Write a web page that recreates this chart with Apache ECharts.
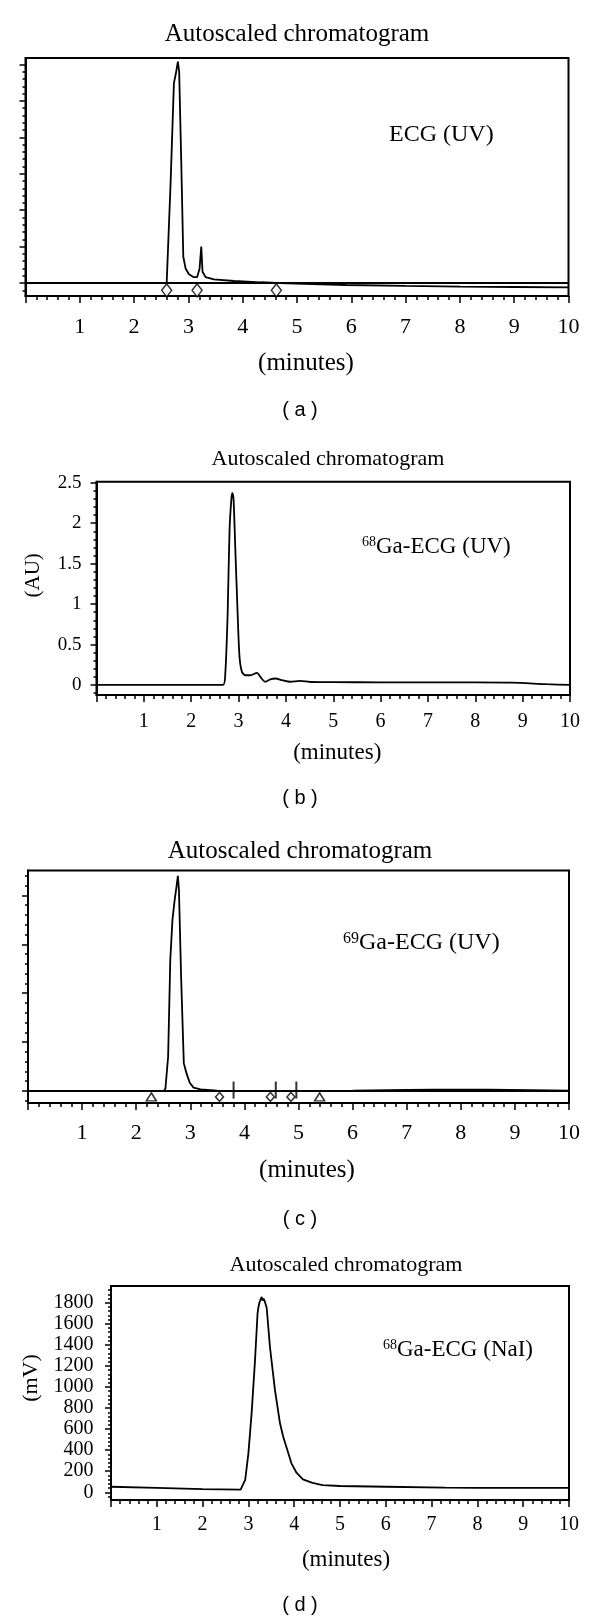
<!DOCTYPE html>
<html><head><meta charset="utf-8">
<script src="https://cdn.jsdelivr.net/npm/echarts@6/dist/echarts.min.js"></script>
<style>html,body{margin:0;padding:0;background:#fff}#c{width:600px;height:1621px}</style>
</head><body><div id="c"></div>
<script>
// ---------- shared ----------
const xTickLabels = [1, 2, 3, 4, 5, 6, 7, 8, 9, 10];

// ---------- panel (a): ECG (UV) ----------
const aTime   = [0, 1, 2, 2.5, 2.60, 2.672, 2.733, 2.77, 2.806, 2.83, 2.869, 2.906, 2.948, 3.01, 3.10, 3.16, 3.206, 3.237, 3.26, 3.317, 3.47, 3.84, 4.33, 4.82, 5.9, 7.0, 8.0, 9.0, 10.0];
const aSignal = [0, 0, 0, 0, 0, 2.74, 5.49, 5.76, 6.08, 5.80, 3.29, 0.72, 0.40, 0.24, 0.16, 0.16, 0.40, 1.0, 0.31, 0.16, 0.10, 0.055, 0.02, -0.01, -0.055, -0.08, -0.10, -0.11, -0.12];
const aDiamondTimes = [2.60, 3.16, 4.62];
const aYMajor = [0, 1, 2, 3, 4, 5, 6];

// ---------- panel (b): 68Ga-ECG (UV) ----------
const bTime   = [0, 1, 2, 2.67, 2.72, 2.77, 2.81, 2.85, 2.87, 2.895, 2.93, 2.98, 3.02, 3.07, 3.14, 3.25, 3.39, 3.46, 3.565, 3.67, 3.78, 3.92, 4.09, 4.30, 4.51, 5.0, 6.0, 7.0, 8.0, 8.77, 9.5, 10];
const bSignal = [0, 0, 0, 0, 0.14, 0.89, 1.92, 2.31, 2.37, 2.29, 1.71, 0.89, 0.35, 0.165, 0.12, 0.12, 0.15, 0.10, 0.04, 0.07, 0.08, 0.06, 0.04, 0.05, 0.037, 0.035, 0.033, 0.033, 0.033, 0.03, 0.01, 0];
const bYTicks = [0, 0.5, 1, 1.5, 2, 2.5];

// ---------- panel (c): 69Ga-ECG (UV) ----------
const cTime   = [0, 1, 2, 2.51, 2.54, 2.59, 2.63, 2.67, 2.71, 2.745, 2.77, 2.79, 2.83, 2.88, 2.93, 2.99, 3.06, 3.19, 3.5, 4.5, 6, 7, 7.5, 8.5, 9.3, 10];
const cSignal = [0, 0, 0, 0, 0.05, 0.7, 2.68, 3.50, 3.9, 4.18, 4.40, 4.11, 2.34, 0.57, 0.36, 0.17, 0.07, 0.035, 0.01, 0.0, 0.01, 0.025, 0.03, 0.03, 0.02, 0.01];
const cTriangleTimes = [2.28, 5.39];
const cDiamondTimes  = [3.54, 4.48, 4.86];
const cBarTimes      = [3.80, 4.58, 4.96];
const cYMajor = [0, 1, 2, 3, 4];

// ---------- panel (d): 68Ga-ECG (NaI) ----------
const dTime   = [0, 1, 2, 2.83, 2.93, 3.0, 3.07, 3.145, 3.20, 3.22, 3.24, 3.265, 3.29, 3.31, 3.33, 3.36, 3.40, 3.47, 3.58, 3.69, 3.76, 3.85, 3.94, 4.05, 4.19, 4.4, 4.62, 5.0, 6.0, 7.3, 8, 10];
const dSignal = [53, 42, 30, 25, 117, 370, 750, 1256, 1700, 1760, 1800, 1830, 1855, 1820, 1840, 1810, 1750, 1382, 971, 655, 528, 402, 275, 186, 123, 90, 69, 60, 53, 44, 42, 42];
const dYTicks = [0, 200, 400, 600, 800, 1000, 1200, 1400, 1600, 1800];

// marker levels (just below the baseline)
const aMarkLevel = -0.2;
const cMarkLevel = -0.12;
const cBarLevel = 0.02;

// ---------- helpers ----------
const SERIF = 'Liberation Serif';
const SANS = 'Liberation Sans';
const pairs = (xs, ys) => xs.map((x, i) => [x, ys[i]]);
function steps(from, to, step) { const o = []; for (let v = from; v <= to + 1e-9; v += step) o.push(+v.toFixed(6)); return o; }

const grids = [
  { left: 25.5, top: 58,    width: 543,   height: 238 },
  { left: 96.5, top: 481.7, width: 473.5, height: 213.3 },
  { left: 28,   top: 870.5, width: 541,   height: 232.5 },
  { left: 111,  top: 1286,  width: 458,   height: 214 }
].map(g => Object.assign(g, { show: true, borderColor: '#000', borderWidth: 2, backgroundColor: 'transparent', containLabel: false }));

function xAxis(gi, fs, margin, nameFs, nameGap, namePad) {
  return {
    type: 'value', gridIndex: gi, min: 0, max: 10, interval: 1,
    axisLine: { show: true, onZero: false, lineStyle: { color: '#000', width: 2 } },
    axisTick: { show: true, inside: false, length: 7, lineStyle: { color: '#000', width: 1.5 } },
    minorTick: { show: true, splitNumber: 5, length: 4, lineStyle: { color: '#000', width: 1.5 } },
    splitLine: { show: false },
    axisLabel: { show: true, fontFamily: SERIF, fontSize: fs, color: '#000', margin: margin,
      formatter: v => (xTickLabels.indexOf(v) >= 0 ? String(v) : '') },
    name: '(minutes)', nameLocation: 'middle', nameGap: nameGap,
    nameTextStyle: { fontFamily: SERIF, fontSize: nameFs, color: '#000', padding: [0, 0, 0, namePad] }
  };
}
function yMajor(gi, min, max, vals, showLabels, fs, margin, name, nameFs, nameGap, namePad) {
  return {
    type: 'value', gridIndex: gi, position: 'left', min: min, max: max,
    axisLine: { show: true, onZero: false, lineStyle: { color: '#000', width: 2 } },
    axisTick: { show: true, inside: false, length: 6, customValues: vals, lineStyle: { color: '#000', width: 1.5 } },
    splitLine: { show: false },
    axisLabel: { show: showLabels, customValues: vals, fontFamily: SERIF, fontSize: fs || 12, color: '#000', margin: margin || 8,
      formatter: v => String(v) },
    name: name || '', nameLocation: 'middle', nameGap: nameGap || 0, nameRotate: 90,
    nameTextStyle: { fontFamily: SERIF, fontSize: nameFs || 12, color: '#000', padding: [0, 0, 0, namePad || 0] }
  };
}
function yMinor(gi, min, max, vals) {
  return {
    type: 'value', gridIndex: gi, position: 'left', offset: 0, min: min, max: max,
    axisLine: { show: false, onZero: false },
    axisTick: { show: true, inside: false, length: 3, customValues: vals, lineStyle: { color: '#000', width: 1.5 } },
    axisLabel: { show: false }, splitLine: { show: false }
  };
}

const lineStyle = { color: '#000', width: 1.8 };
const baseline = { silent: true, symbol: ['none', 'none'], label: { show: false },
  lineStyle: { color: '#000', width: 2, type: 'solid' }, data: [{ yAxis: 0 }], animation: false };
const hollow = { color: '#fff', borderColor: '#000', borderWidth: 1.5 };

const option = {
  animation: false,
  backgroundColor: '#fff',
  grid: grids,
  xAxis: [
    xAxis(0, 22, 20, 25, 54.5, 18),
    xAxis(1, 20, 17, 23, 46.5, 8),
    xAxis(2, 22, 19, 25, 54.5, 17),
    xAxis(3, 20, 15, 23, 48.5, 12)
  ],
  yAxis: [
    yMajor(0, -0.357, 6.18, aYMajor, false),
    yMinor(0, -0.357, 6.18, steps(-0.2, 6.18, 0.2)),
    yMajor(1, -0.124, 2.513, bYTicks, true, 19, 15, '(AU)', 21, 53, 26),
    yMinor(1, -0.124, 2.513, steps(-0.1, 2.513, 0.1)),
    yMajor(2, -0.245, 4.51, cYMajor, false),
    yMinor(2, -0.245, 4.51, steps(-0.2, 4.51, 0.2)),
    yMajor(3, -73, 1959, dYTicks, true, 20, 17.5, '(mV)', 22, 67, 30),
    yMinor(3, -73, 1959, steps(-40, 1959, 40))
  ],
  series: [
    { type: 'line', xAxisIndex: 0, yAxisIndex: 0, data: pairs(aTime, aSignal), symbol: 'none', lineStyle, markLine: baseline, z: 3 },
    { type: 'scatter', xAxisIndex: 0, yAxisIndex: 0, data: aDiamondTimes.map(t => [t, aMarkLevel]), symbol: 'diamond', symbolSize: [10, 13], itemStyle: hollow, z: 5 },
    { type: 'line', xAxisIndex: 1, yAxisIndex: 2, data: pairs(bTime, bSignal), symbol: 'none', smooth: 0.25, lineStyle, z: 3 },
    { type: 'line', xAxisIndex: 2, yAxisIndex: 4, data: pairs(cTime, cSignal), symbol: 'none', lineStyle, markLine: baseline, z: 3 },
    { type: 'scatter', xAxisIndex: 2, yAxisIndex: 4, data: cTriangleTimes.map(t => [t, cMarkLevel]), symbol: 'triangle', symbolSize: [10, 8], itemStyle: hollow, z: 5 },
    { type: 'scatter', xAxisIndex: 2, yAxisIndex: 4, data: cDiamondTimes.map(t => [t, cMarkLevel]), symbol: 'diamond', symbolSize: [8, 9], itemStyle: hollow, z: 5 },
    { type: 'scatter', xAxisIndex: 2, yAxisIndex: 4, data: cBarTimes.map(t => [t, cBarLevel]), symbol: 'rect', symbolSize: [2, 17], itemStyle: { color: '#000' }, z: 5 },
    { type: 'line', xAxisIndex: 3, yAxisIndex: 6, data: pairs(dTime, dSignal), symbol: 'none', lineStyle, z: 3 }
  ],
  graphic: []
};

function txt(x, y, text, fs, family, align) {
  return { type: 'text', x: x, y: y, silent: true, style: {
    text: text, fontSize: fs, fontFamily: family, fill: '#000',
    align: align || 'center', verticalAlign: 'middle', textAlign: align || 'center', textVerticalAlign: 'middle' } };
}
function richTxt(x, y, sup, main, supFs, mainFs) {
  return { type: 'text', x: x, y: y, silent: true, style: {
    text: '{s|' + sup + '}{m|' + main + '}', fill: '#000',
    align: 'left', verticalAlign: 'middle', textAlign: 'left', textVerticalAlign: 'middle',
    rich: { s: { fontSize: supFs, fontFamily: SERIF, fill: '#000', verticalAlign: 'top' },
            m: { fontSize: mainFs, fontFamily: SERIF, fill: '#000' } } } };
}
option.graphic = [
  txt(297, 34, 'Autoscaled chromatogram', 25, SERIF),
  txt(328, 459, 'Autoscaled chromatogram', 22, SERIF),
  txt(300, 851, 'Autoscaled chromatogram', 25, SERIF),
  txt(346, 1265, 'Autoscaled chromatogram', 22, SERIF),
  txt(389, 135, 'ECG (UV)', 24, SERIF, 'left'),
  richTxt(362, 547, '68', 'Ga-ECG (UV)', 14, 23),
  richTxt(343, 943, '69', 'Ga-ECG (UV)', 16, 24),
  richTxt(383, 1350, '68', 'Ga-ECG (NaI)', 14, 23),
  txt(300, 410, '( a )', 20, SANS),
  txt(300, 798, '( b )', 20, SANS),
  txt(300, 1219, '( c )', 20, SANS),
  txt(300, 1605, '( d )', 20, SANS)
];

const chart = echarts.init(document.getElementById('c'), null, { renderer: 'canvas', width: 600, height: 1621 });
chart.setOption(option);
</script>
</body></html>
